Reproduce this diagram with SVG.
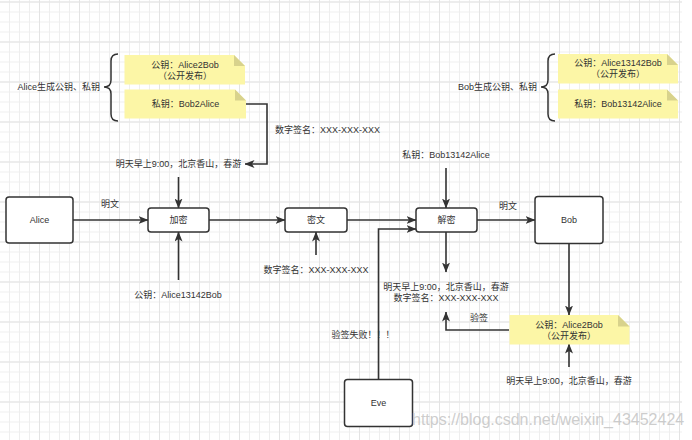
<svg xmlns="http://www.w3.org/2000/svg" width="692" height="440" viewBox="0 0 692 440">
<style>
  text { font-family: "Liberation Sans", "Noto Sans CJK SC", sans-serif; font-size: 9px; fill: #333; }
  .c { text-anchor: middle; }
  .e { text-anchor: end; }
  .box { fill: #fff; stroke: #333; stroke-width: 1.5; }
  .line { fill: none; stroke: #333; stroke-width: 1.6; }
  .arr { fill: none; stroke: #333; stroke-width: 1.6; marker-end: url(#ah); }
  .note { fill: #fcf6a6; }
  .fold { fill: #d8d28c; }
  .brace { fill: none; stroke: #333; stroke-width: 1.5; }
  .wm { font-size: 16px; fill: #c4c4c4; fill-opacity: 0.85; }
</style>
<defs>
  <pattern id="gmin" x="9" y="1.5" width="10" height="10" patternUnits="userSpaceOnUse">
    <rect x="0" y="0" width="1" height="10" fill="#eeeeee"/>
    <rect x="0" y="0" width="10" height="1" fill="#eeeeee"/>
  </pattern>
  <pattern id="gmaj" x="39" y="1.5" width="40" height="40" patternUnits="userSpaceOnUse">
    <rect x="0" y="0" width="1" height="40" fill="#e3e3e3"/>
    <rect x="0" y="0" width="40" height="1" fill="#e3e3e3"/>
  </pattern>
  <marker id="ah" viewBox="0 0 10 8" markerWidth="10" markerHeight="8" refX="9.5" refY="4" orient="auto" markerUnits="userSpaceOnUse">
    <path d="M0,0 L10,4 L0,8 L2.5,4 z" fill="#333"/>
  </marker>
</defs>

<rect x="0" y="0" width="692" height="440" fill="#fff"/>
<rect x="0" y="0" width="682" height="440" fill="url(#gmin)"/>
<rect x="0" y="0" width="682" height="440" fill="url(#gmaj)"/>

<g id="connectors">
  <path class="arr" d="M73,220 H148"/>
  <path class="arr" d="M178.5,177 V208"/>
  <path class="arr" d="M178.5,280 V232"/>
  <path class="arr" d="M209,220 H285"/>
  <path class="arr" d="M316,255 V232"/>
  <path class="arr" d="M347,220 H416"/>
  <path class="arr" d="M378.5,379 V229 H416"/>
  <path class="arr" d="M446,168 V208"/>
  <path class="arr" d="M446,232 V272"/>
  <path class="arr" d="M477,220 H535"/>
  <path class="arr" d="M569,243 V315"/>
  <path class="arr" d="M569,367 V344"/>
  <path class="arr" d="M509,330 H446 V312"/>
  <path class="arr" d="M246,104 H267 V164 H245"/>
</g>

<g id="alice">
  <rect class="box" x="6" y="197" width="67" height="46" rx="3"/>
  <text class="c" x="39.5" y="223">Alice</text>
</g>
<g id="encrypt">
  <rect class="box" x="148" y="208" width="61" height="24" rx="3"/>
  <text class="c" x="178.5" y="223">加密</text>
</g>
<g id="ciphertext">
  <rect class="box" x="285" y="208" width="62" height="24" rx="3"/>
  <text class="c" x="316" y="223">密文</text>
</g>
<g id="decrypt">
  <rect class="box" x="416" y="208" width="61" height="24" rx="3"/>
  <text class="c" x="446.5" y="223">解密</text>
</g>
<g id="bob">
  <rect class="box" x="535" y="196.5" width="68" height="47" rx="3"/>
  <text class="c" x="569" y="223">Bob</text>
</g>
<g id="eve">
  <rect class="box" x="344.5" y="379.5" width="68" height="47" rx="3"/>
  <text class="c" x="378.5" y="406">Eve</text>
</g>

<g id="alice-keys">
  <path class="brace" d="M118,54 Q111,54 111,61 V80 Q111,87 104,87 Q111,87 111,94 V114 Q111,121 118,121"/>
  <text class="e" x="100" y="90">Alice生成公钥、私钥</text>
</g>
<g id="note-alice-pub">
  <path class="note" d="M124.5,55 H234 L245,66 V84.5 H124.5 Z"/>
  <path class="fold" d="M234,55 L234,66 L245,66 Z"/>
  <text class="c" x="185" y="68">公钥：Alice2Bob</text>
  <text class="c" x="185" y="79">（公开发布）</text>
</g>
<g id="note-alice-priv">
  <path class="note" d="M124.5,89.5 H235 L246,100.5 V118.5 H124.5 Z"/>
  <path class="fold" d="M235,89.5 L235,100.5 L246,100.5 Z"/>
  <text class="c" x="185.5" y="106.5">私钥：Bob2Alice</text>
</g>

<g id="bob-keys">
  <path class="brace" d="M555,54 Q548,54 548,61 V80 Q548,87 541,87 Q548,87 548,94 V114 Q548,121 555,121"/>
  <text class="e" x="537" y="90">Bob生成公钥、私钥</text>
</g>
<g id="note-bob-pub">
  <path class="note" d="M558,54 H667 L678,65 V83.5 H558 Z"/>
  <path class="fold" d="M667,54 L667,65 L678,65 Z"/>
  <text class="c" x="618" y="66">公钥：Alice13142Bob</text>
  <text class="c" x="618" y="77">（公开发布）</text>
</g>
<g id="note-bob-priv">
  <path class="note" d="M558,89.5 H667 L678,100.5 V118.5 H558 Z"/>
  <path class="fold" d="M667,89.5 L667,100.5 L678,100.5 Z"/>
  <text class="c" x="618" y="106.5">私钥：Bob13142Alice</text>
</g>

<g id="note-verify">
  <path class="note" d="M509.5,315 H618 L629.5,326.5 V344.5 H509.5 Z"/>
  <path class="fold" d="M618,315 L618,326.5 L629.5,326.5 Z"/>
  <text class="c" x="569" y="327.5">公钥：Alice2Bob</text>
  <text class="c" x="569" y="339">（公开发布）</text>
</g>

<g id="labels">
  <text class="c" x="110" y="207">明文</text>
  <text class="c" x="508" y="209">明文</text>
  <text x="275" y="132.5">数字签名：XXX-XXX-XXX</text>
  <text class="c" x="178.5" y="166.5">明天早上9:00，北京香山，春游</text>
  <text class="c" x="178" y="298">公钥：Alice13142Bob</text>
  <text class="c" x="316" y="273">数字签名：XXX-XXX-XXX</text>
  <text class="c" x="446" y="157.5">私钥：Bob13142Alice</text>
  <text class="c" x="446" y="290">明天早上9:00，北京香山，春游</text>
  <text class="c" x="446" y="300.5">数字签名：XXX-XXX-XXX</text>
  <text class="c" x="363" y="338">验签失败！！！</text>
  <text class="c" x="479" y="320.5">验签</text>
  <text class="c" x="569" y="384">明天早上9:00，北京香山，春游</text>
</g>

<text class="wm" x="412" y="425">https://blog.csdn.net/weixin_43452424</text>
</svg>
